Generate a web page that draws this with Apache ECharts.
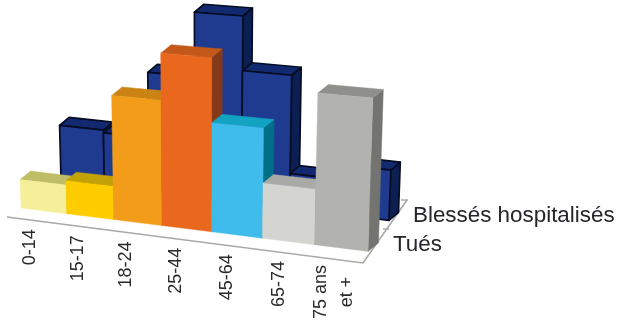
<!DOCTYPE html>
<html><head><meta charset="utf-8">
<style>html,body{margin:0;padding:0;background:#fff}#c{width:617px;height:328px}</style>
<script src="https://cdn.jsdelivr.net/npm/echarts@6/dist/echarts.min.js"></script>
</head><body><div id="c"></div>
<script>
const categories = ['0-14','15-17','18-24','25-44','45-64','65-74','75 ans\net +'];
const rowNames = ['Blessés hospitalisés','Tués'];
const blesses = [8.0,7.7,17.5,27.3,19.5,5.1,7.4];
const tues = [4.2,4.9,18.4,25.6,16.2,8.2,22.6];

const frontFaces = ['#F5EF9A','#FFCC00','#F39C1A','#EA681E','#40BCEC','#D4D5D0','#B2B3AF'];
const frontTops  = ['#BFBD66','#C2A206','#CB8414','#C4581A','#12A2C2','#A9AAA6','#8F908C'];
const frontSides = ['#A9A75A','#A88C05','#A86A10','#84391A','#006F88','#8C8D89','#73746F'];
const backFace = '#1F3B90', backTop = '#13296F', backSide = '#0C1F52', backEdge = '#060C24';

const rowFront = {curve:0.65, dx:10.5, dy:8.5, edge:null};
const rowBack  = {curve:0.58, dx:9.5, dy:8, edge:backEdge};

function project(api,row,u,v,d,i){
  const c = api.coord([u,v]), b = api.coord([0,0]);
  const h = api.coord([u,0])[1]-c[1];
  let x = c[0]-row.curve*u*(7-u);
  x += (x-200)*h*0.00019;
  const y = c[1]+(x-b[0])*0.125-(u-i)*50*0.00025*h;
  return [x+d*row.dx, y-d*row.dy];
}
function barRenderer(row,colorFn){
  return function(params,api){
    const i = api.value(0), v = api.value(1), col = colorFn(i);
    const p = (u,w,d)=>project(api,row,u,w,d,i);
    const st = c=>row.edge?{fill:c,stroke:row.edge,lineWidth:1.7,lineJoin:'round'}:{fill:c,stroke:c,lineWidth:0.4};
    const poly = (pts,c)=>({type:'polygon',shape:{points:pts},style:st(c)});
    return {type:'group',children:[
      poly([p(i+1,0,0),p(i+1,0,1),p(i+1,v,1),p(i+1,v,0)],col.side),
      poly([p(i,v,0),p(i+1,v,0),p(i+1,v,1),p(i,v,1)],col.top),
      poly([p(i,0,0),p(i+1,0,0),p(i+1,v,0),p(i,v,0)],col.face)
    ]};
  };
}
const hiddenAxis = (o)=>Object.assign({show:false,type:'value'},o);
const chart = echarts.init(document.getElementById('c'),null,{renderer:'canvas'});
const floorColor = '#A8A8A4';
chart.setOption({
  animation:false,
  backgroundColor:'#fff',
  grid:[
    {left:21,width:347,top:6.1,height:201.9},
    {left:61,width:328,top:11.05,height:168.25}
  ],
  xAxis:[hiddenAxis({gridIndex:0,min:0,max:7}),hiddenAxis({gridIndex:1,min:0,max:7})],
  yAxis:[hiddenAxis({gridIndex:0,min:0,max:30}),hiddenAxis({gridIndex:1,min:0,max:25})],
  graphic:[
    {type:'polyline',z:0,shape:{points:[[7,217],[363,263],[407,200]]},style:{stroke:floorColor,lineWidth:1.6,fill:null}},
    {type:'line',z:0,shape:{x1:383,y1:229,x2:389,y2:229},style:{stroke:floorColor,lineWidth:1.4}},
    {type:'line',z:0,shape:{x1:401,y1:200,x2:408,y2:200},style:{stroke:floorColor,lineWidth:1.4}},
    {type:'text',x:413,y:216,style:{text:rowNames[0],font:'22.4px "Liberation Sans"',fill:'#26262a',verticalAlign:'middle'}},
    {type:'text',x:393,y:245,style:{text:rowNames[1],font:'22.4px "Liberation Sans"',fill:'#26262a',verticalAlign:'middle'}}
  ],
  series:[
    {type:'custom',name:rowNames[0],coordinateSystem:'cartesian2d',xAxisIndex:1,yAxisIndex:1,z:2,silent:true,
     data:blesses.map((v,i)=>[i,v]),
     renderItem:barRenderer(rowBack,()=>({face:backFace,top:backTop,side:backSide}))},
    {type:'custom',name:rowNames[1],coordinateSystem:'cartesian2d',xAxisIndex:0,yAxisIndex:0,z:3,silent:true,
     data:tues.map((v,i)=>[i,v]),
     renderItem:barRenderer(rowFront,i=>({face:frontFaces[i],top:frontTops[i],side:frontSides[i]}))},
    {type:'custom',coordinateSystem:'cartesian2d',xAxisIndex:0,yAxisIndex:0,z:4,silent:true,
     data:categories.map((c,i)=>[i,0]),
     renderItem:function(params,api){
       const i = api.value(0), c = categories[i];
       const a = project(api,rowFront,i+0.5,0,0,i);
       const two = c.indexOf('\n')>=0;
       return {type:'text',rotation:Math.PI/2,
         x:two?a[0]-7.5:a[0]-13.2+i*0.8, y:two?a[1]+44:a[1]+18.5+i*0.2,
         style:{text:c,font:'18px "Liberation Sans"',fill:'#2a2a2c',lineHeight:26,
           align:two?'center':'right',verticalAlign:'middle'}};
     }}
  ]
});
</script></body></html>
